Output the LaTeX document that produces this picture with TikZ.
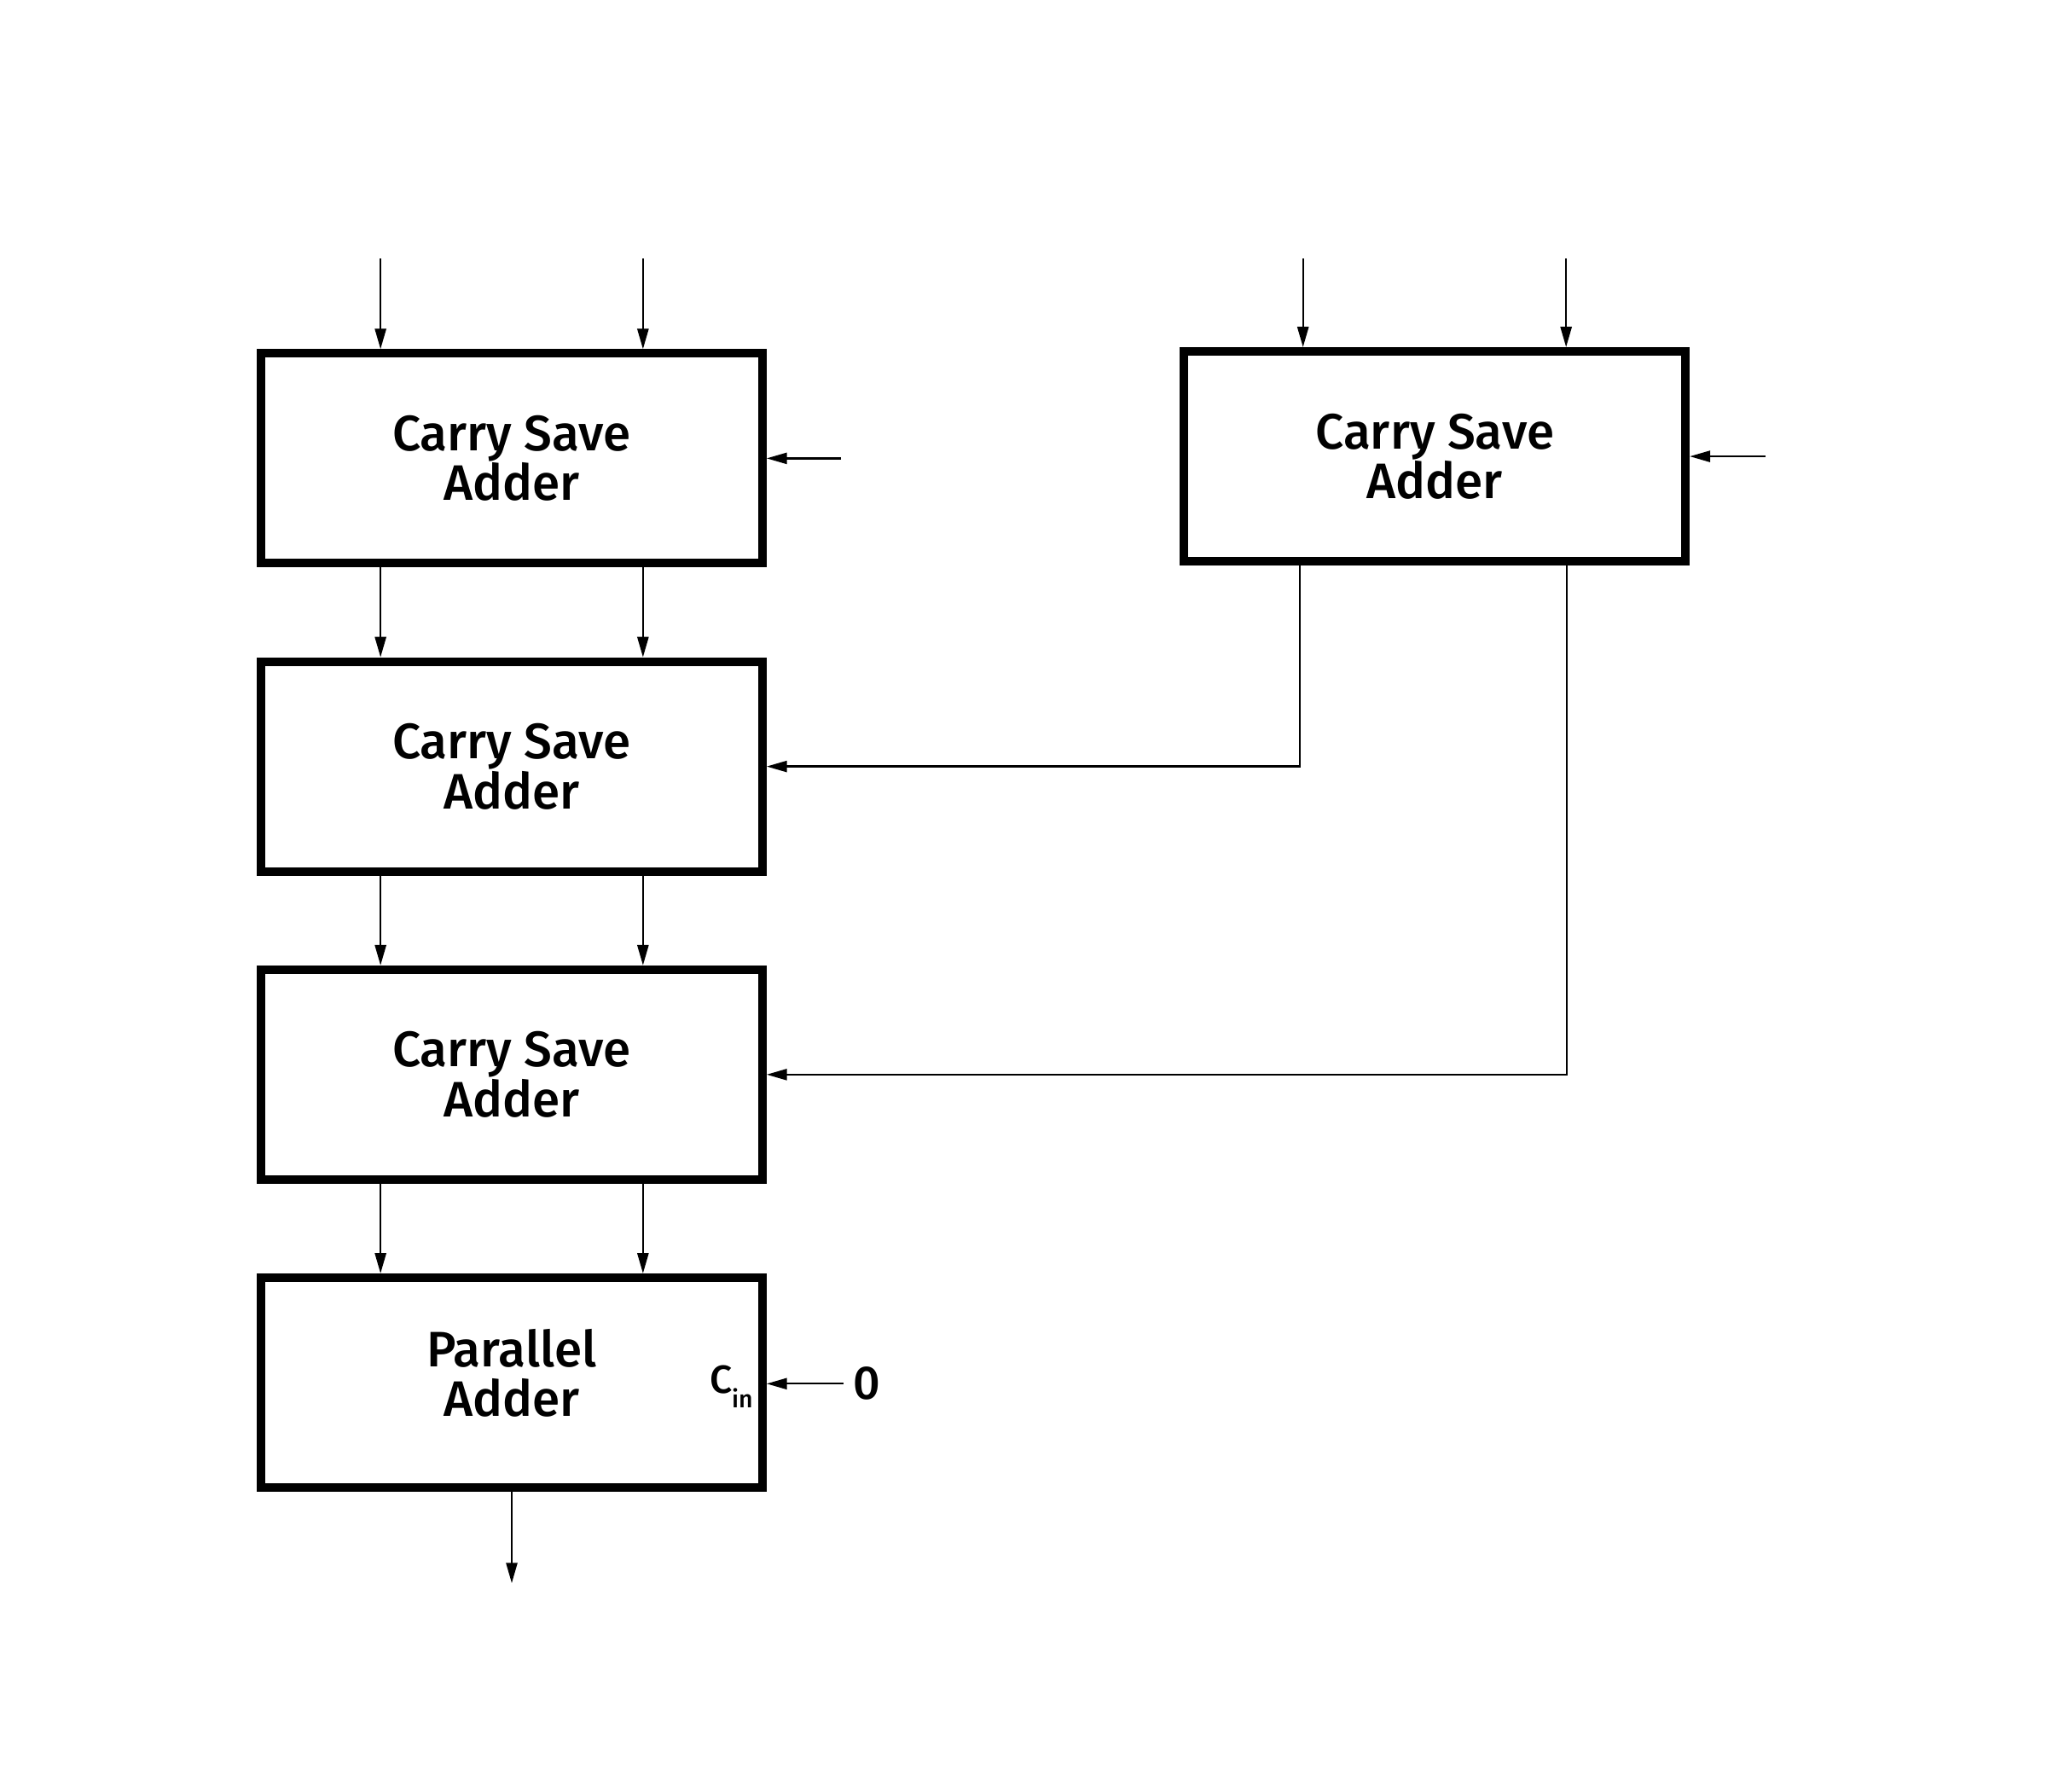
\documentclass[tikz,border=0pt]{standalone}
\usepackage{fontspec}
\setmainfont{Fira Sans}[UprightFont=* Medium]
\usetikzlibrary{arrows.meta,positioning}

\tikzset{
	block/.style={draw, line width=6.5pt, minimum width=382pt, minimum height=160pt,
		inner sep=0pt, align=center, font=\fontsize{38}{38}\selectfont},
	wire/.style={line width=1.5pt, -{Triangle[length=15.5pt,width=8.5pt]}},
}

\begin{document}
\begin{tikzpicture}[x=1pt,y=-1pt]
\useasboundingbox (0,0) rectangle (1560,1365);

% left column
\foreach \n/\y in {1/349.3, 2/584.1, 3/818.9}
{
	\node[block] (csa\n) at (390,\y) {Carry Save\\Adder};
};
\node[block] (pa) at (390,1053.7) {Parallel\\Adder\rule[-15pt]{0pt}{15pt}};

% right block
\node[block] (csa4) at (1093.5,347.8) {Carry Save\\Adder};

% inputs on top
\coordinate (a1) at (290,197);
\coordinate (a2) at (490,197);
\coordinate (a3) at (993,197);
\coordinate (a4) at (1193.5,197);

\draw[wire] (a1) -- (a1 |- csa1.north);
\draw[wire] (a2) -- (a2 |- csa1.north);
\draw[wire] (a3) -- (a3 |- csa4.north);
\draw[wire] (a4) -- (a4 |- csa4.north);

% side inputs
\coordinate (b1) at (641,349.3);
\coordinate (b4) at (1345.5,347.8);
\draw[wire] (b1) -- (csa1.east);
\draw[wire] (b4) -- (csa4.east);

% sum and carry down the column
\foreach \s/\t in {csa1/csa2, csa2/csa3, csa3/pa} {
	\foreach \d in {-100,100} {
		\draw[wire] ([xshift=\d pt]\s.south) -- ([xshift=\d pt]\t.north);
}; };

% right block feeds back in
\draw[wire] ([xshift=-103pt]csa4.south) |- (csa2.east);
\draw[wire] ([xshift=100.5pt]csa4.south) |- (csa3.east);

% carry in
\node[anchor=west, inner sep=0pt, inner xsep=7pt, font=\fontsize{36}{36}\selectfont]
	(zero) at (643,1054.5) {0};
\draw[wire] (zero.west) -- (zero.west -| pa.east);
\node[anchor=base east, inner sep=0pt, font=\fontsize{30}{30}\selectfont]
	(cin) at (574,1061.7) {C\raisebox{-10.8pt}{\fontsize{18.5}{18.5}\selectfont in}};

% result
\coordinate (c1) at (390,1206.5);
\draw[wire] (pa.south) -- (c1);
\end{tikzpicture}
\end{document}
